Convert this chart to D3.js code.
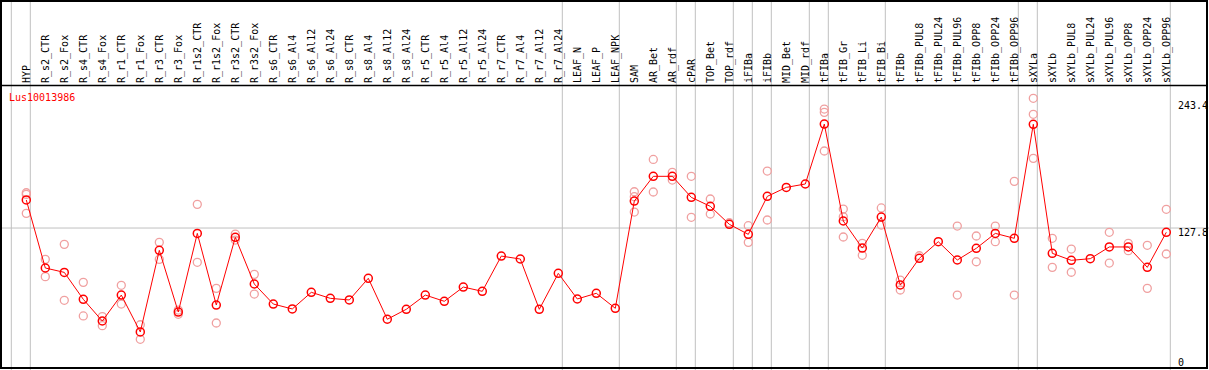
<!DOCTYPE html>
<html><head><meta charset="utf-8">
<script src="https://cdn.jsdelivr.net/npm/d3@7"></script>
<style>body{margin:0;background:#fff}svg{display:block}</style>
</head><body>
<script>
const categories = ["HYP","R_s2_CTR","R_s2_Fox","R_s4_CTR","R_s4_Fox","R_r1_CTR","R_r1_Fox","R_r3_CTR","R_r3_Fox","R_r1s2_CTR","R_r1s2_Fox","R_r3s2_CTR","R_r3s2_Fox","R_s6_CTR","R_s6_Al4","R_s6_Al12","R_s6_Al24","R_s8_CTR","R_s8_Al4","R_s8_Al12","R_s8_Al24","R_r5_CTR","R_r5_Al4","R_r5_Al12","R_r5_Al24","R_r7_CTR","R_r7_Al4","R_r7_Al12","R_r7_Al24","LEAF_N","LEAF_P","LEAF_NPK","SAM","AR_Bet","AR_rdf","cPAR","TOP_Bet","TOP_rdf","iFIBa","iFIBb","MID_Bet","MID_rdf","tFIBa","tFIB_Gr","tFIB_Li","tFIB_Bi","tFIBb","tFIBb_PUL8","tFIBb_PUL24","tFIBb_PUL96","tFIBb_OPP8","tFIBb_OPP24","tFIBb_OPP96","sXYLa","sXYLb","sXYLb_PUL8","sXYLb_PUL24","sXYLb_PUL96","sXYLb_OPP8","sXYLb_OPP24","sXYLb_OPP96"];
const meanValues = [153.4,91.3,87.3,62.7,42.9,66.6,32.9,107.4,51.1,122.9,57.5,119.3,76.7,58.4,53.9,69.1,63.6,62.1,81.9,44.5,53.6,66.6,60.9,73.9,70.0,102.2,99.5,53.6,86.4,63.0,68.2,54.5,152.4,175.0,175.0,155.8,147.6,131.2,122.0,156.7,164.9,168.0,222.7,134.2,109.5,137.8,75.8,100.1,115.3,98.6,109.3,122.9,118.4,222.5,104.7,98.3,99.8,110.5,110.5,91.9,123.9];
const repA = [160.0,99.2,112.9,78.2,46.9,75.5,39.5,114.7,52.9,149.4,72.7,122.3,85.5,null,null,null,null,null,null,null,null,null,null,null,null,null,null,null,null,null,null,null,160.9,190.4,178.6,175.0,154.3,132.6,129.9,179.8,null,null,236.4,145.1,113.8,146.1,80.3,102.5,null,129.6,120.5,129.6,170.4,246.2,118.4,108.6,null,123.9,113.8,112.0,144.9];
const repB = [158.5,83.4,61.8,47.5,38.6,58.4,26.2,99.2,49.0,96.5,41.1,116.8,67.5,null,null,null,null,null,null,null,null,null,null,null,null,null,null,null,null,null,null,null,156.4,160.7,171.6,137.6,140.6,null,114.7,135.1,null,null,233.4,138.1,102.9,130.5,71.2,null,null,66.6,97.0,115.3,66.6,231.6,91.9,87.4,null,95.8,107.1,72.7,104.1];
const repC = [141.2,null,null,null,null,null,null,null,null,null,null,null,null,null,null,null,null,null,null,null,null,null,null,null,null,null,null,null,null,null,null,null,142.4,null,null,null,null,null,null,null,null,null,198.1,119.6,null,null,null,null,null,null,null,null,null,191.4,null,null,null,null,null,null,null];
const groupEnds = ["HYP","R_r7_Al24","LEAF_NPK","AR_rdf","cPAR","TOP_rdf","iFIBa","iFIBb","MID_rdf","tFIBa","tFIB_Bi","tFIBb_OPP96","sXYLa","sXYLb_OPP96"];
const tickValues = [0,127.8,243.4];
const tickLabels = ["0","127.8","243.4"];
const geneName = "Lus10013986";

const W = 1209, H = 370;
const svg = d3.select("body").append("svg").attr("width", W).attr("height", H);
const x = d3.scalePoint().domain(categories).range([26.3, 1166.3]);
const y = d3.scaleLinear().domain([0, 243.4]).range([368, 101.4]);
const step = x.step();
const mono = "'DejaVu Sans Mono', 'Liberation Mono', monospace";

// vertical group separators
const sepX = [x(categories[0]) - step + 4].concat(groupEnds.map(c => x(c) + 4));
svg.selectAll("line.sep").data(sepX).enter().append("line")
  .attr("x1", d => d).attr("x2", d => d).attr("y1", 0).attr("y2", H)
  .attr("stroke", "#c0c0c0").attr("stroke-width", 1);

// horizontal grid line at middle tick
svg.append("line").attr("x1", 0).attr("x2", W).attr("y1", y(127.8)).attr("y2", y(127.8))
  .attr("stroke", "#c0c0c0").attr("stroke-width", 1);

// frame
svg.append("rect").attr("x", 1).attr("y", 1).attr("width", 1206).attr("height", 367)
  .attr("fill", "none").attr("stroke", "#000").attr("stroke-width", 2);
svg.append("line").attr("x1", 0).attr("x2", 1208).attr("y1", 85.5).attr("y2", 85.5)
  .attr("stroke", "#000").attr("stroke-width", 1.5);

// category labels
svg.selectAll("text.cat").data(categories).enter().append("text")
  .attr("transform", d => `translate(${x(d) + 4},83) rotate(-90)`)
  .attr("font-family", mono).attr("font-size", 10).attr("fill", "#000")
  .text(d => d);

// axis labels
svg.selectAll("text.tick").data(tickValues).enter().append("text")
  .attr("x", 1178).attr("y", (d) => d === 0 ? y(d) - 2.5 : y(d) + 8)
  .attr("font-family", mono).attr("font-size", 10).attr("fill", "#000")
  .text((d, i) => tickLabels[i]);

// gene name
svg.append("text").attr("x", 9).attr("y", 101).attr("font-family", mono)
  .attr("font-size", 10).attr("fill", "#ff0000").text(geneName);

// replicate points
const reps = [];
[repA, repB, repC].forEach(arr => arr.forEach((v, i) => { if (v != null) reps.push({c: categories[i], v}); }));
svg.selectAll("circle.rep").data(reps).enter().append("circle")
  .attr("cx", d => x(d.c)).attr("cy", d => y(d.v)).attr("r", 4)
  .attr("fill", "none").attr("stroke", "#f0a0a0").attr("stroke-width", 1.3);

// mean line
const pts = categories.map((c, i) => ({c, v: meanValues[i]}));
svg.append("path").datum(pts)
  .attr("d", d3.line().x(d => x(d.c)).y(d => y(d.v)))
  .attr("fill", "none").attr("stroke", "#ff0000").attr("stroke-width", 1);
svg.selectAll("circle.mean").data(pts).enter().append("circle")
  .attr("cx", d => x(d.c)).attr("cy", d => y(d.v)).attr("r", 4)
  .attr("fill", "none").attr("stroke", "#ff0000").attr("stroke-width", 1.5);
</script>
</body></html>
